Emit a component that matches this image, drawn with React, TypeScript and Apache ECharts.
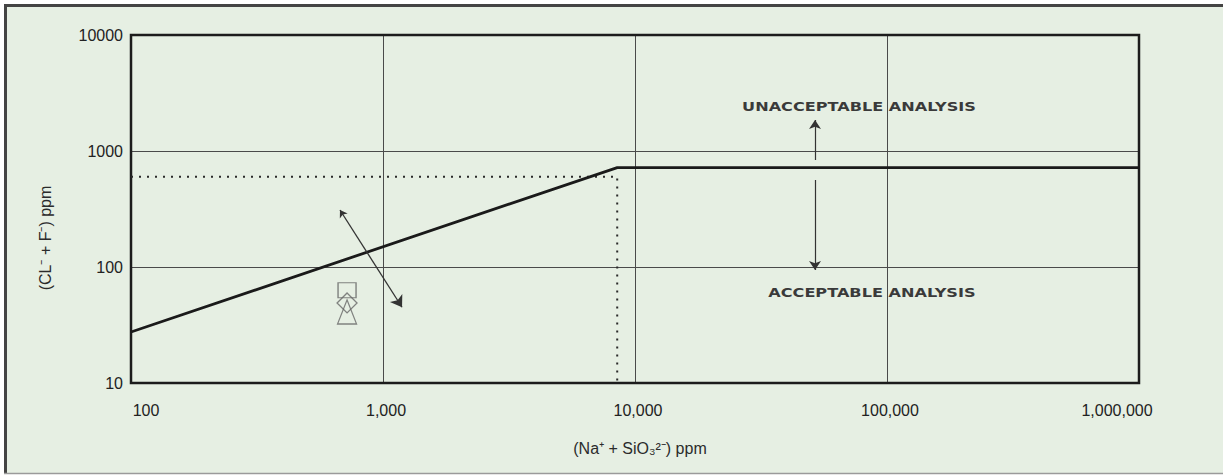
import React, { useEffect, useRef } from 'react';
import * as echarts from 'echarts';

// Axis tick labels (log decades)
const xTickLabels = ['100', '1,000', '10,000', '100,000', '1,000,000'];
const yTickLabels = ['10', '100', '1000', '10000'];
const xAxisTitle = '(Na⁺ + SiO₃²⁻) ppm';
const yAxisTitle = '(CL⁻ + F⁻) ppm';

// Acceptance limit line (x: Na+SiO3 ppm, y: Cl+F ppm)
const limitLine: [number, number][] = [
  [100, 27.5],
  [8500, 720],
  [1000000, 720],
];
// Dotted guide lines
const dottedGuide: [number, number][] = [
  [100, 600],
  [8500, 600],
  [8500, 10],
];
// Sample markers
const sampleSymbols = ['rect', 'diamond', 'triangle'];
const samplePoints: [number, number][] = [
  [720, 63],
  [720, 49],
  [720, 41],
];
const sampleSizes: [number, number][] = [
  [18, 15],
  [20, 20],
  [19, 24],
];
// Arrows
const diagonalArrow: [number, number][] = [
  [675, 310],
  [1190, 45],
];
const upArrow: [number, number][] = [
  [51800, 836],
  [51800, 1850],
];
const downArrow: [number, number][] = [
  [51800, 563],
  [51800, 94],
];
// Region labels
const regionLabels = ['UNACCEPTABLE ANALYSIS', 'ACCEPTABLE ANALYSIS'];
const regionLabelPos: [number, number][] = [
  [77400, 2443],
  [87100, 60.9],
];

const FONT = '"Liberation Sans", Arial, Helvetica, sans-serif';
const TICK_SIZE = 16;
const TICK_COLOR = '#222';

export default function App() {
  const ref = useRef<HTMLDivElement>(null);

  useEffect(() => {
    if (!ref.current) return;
    const chart = echarts.init(ref.current, null, { renderer: 'svg' });

    const option: any = {
      animation: false,
      backgroundColor: '#ffffff',
      grid: {
        left: 131,
        top: 35,
        right: 84,
        bottom: 93,
        show: true,
        borderColor: '#1c1c1c',
        borderWidth: 2.5,
        backgroundColor: 'transparent',
        z: 1,
      },
      xAxis: {
        type: 'log',
        logBase: 10,
        min: 100,
        max: 1000000,
        axisLine: { show: false },
        axisTick: { show: false },
        splitLine: { show: true, lineStyle: { color: '#4a4a4a', width: 1 } },
        axisLabel: {
          margin: 19,
          fontSize: TICK_SIZE,
          color: TICK_COLOR,
          fontFamily: FONT,
          formatter: (v: number) => {
            const i = Math.round(Math.log10(v)) - 2;
            const t = xTickLabels[i] ?? '';
            if (i === 0) return '{first|' + t + '}';
            if (i === xTickLabels.length - 1) return '{last|' + t + '}';
            return '{mid|' + t + '}';
          },
          rich: {
            first: { fontSize: TICK_SIZE, color: TICK_COLOR, fontFamily: FONT, padding: [0, 0, 0, 30] },
            last: { fontSize: TICK_SIZE, color: TICK_COLOR, fontFamily: FONT, padding: [0, 44, 0, 0] },
            mid: { fontSize: TICK_SIZE, color: TICK_COLOR, fontFamily: FONT, padding: [0, 0, 0, 6] },
          },
        },
        name: xAxisTitle,
        nameLocation: 'middle',
        nameGap: 57,
        nameTextStyle: { fontSize: 16, color: '#2b2b2b', fontFamily: FONT, padding: [0, 0, 0, 10] },
      },
      yAxis: {
        type: 'log',
        logBase: 10,
        min: 10,
        max: 10000,
        axisLine: { show: false },
        axisTick: { show: false },
        splitLine: { show: true, lineStyle: { color: '#4a4a4a', width: 1 } },
        axisLabel: {
          margin: 8,
          fontSize: TICK_SIZE,
          color: TICK_COLOR,
          fontFamily: FONT,
          formatter: (v: number) => yTickLabels[Math.round(Math.log10(v)) - 1] ?? '',
        },
        name: yAxisTitle,
        nameLocation: 'middle',
        nameGap: 78,
        nameTextStyle: { fontSize: 16, color: '#2b2b2b', fontFamily: FONT, padding: [0, 58, 0, 0] },
      },
      series: [
        {
          type: 'line',
          data: dottedGuide,
          symbol: 'none',
          lineStyle: { color: '#2a2a2a', width: 2, type: [2, 6] },
          z: 2,
        },
        {
          type: 'line',
          data: limitLine,
          symbol: 'none',
          lineStyle: { color: '#1a1a1a', width: 2.8 },
          z: 3,
        },
        {
          type: 'scatter',
          data: samplePoints.map((p, i) => ({
            value: p,
            symbol: sampleSymbols[i],
            symbolSize: sampleSizes[i],
          })),
          itemStyle: { color: 'rgba(0,0,0,0)', borderColor: '#666', borderWidth: 1.3 },
          z: 4,
        },
        {
          type: 'lines',
          coordinateSystem: 'cartesian2d',
          data: [{ coords: diagonalArrow }],
          symbol: ['arrow', 'arrow'],
          symbolSize: [7, 11],
          lineStyle: { color: '#333', width: 1.3, opacity: 1 },
          z: 4,
        },
        {
          type: 'lines',
          coordinateSystem: 'cartesian2d',
          data: [{ coords: upArrow }, { coords: downArrow }],
          symbol: ['none', 'arrow'],
          symbolSize: [6, 9],
          lineStyle: { color: '#333', width: 1.2, opacity: 1 },
          z: 4,
        },
      ],
    };

    chart.setOption(option);

    const labelEls = regionLabels.map((t, i) => {
      const [px, py] = chart.convertToPixel({ gridIndex: 0 }, regionLabelPos[i]) as number[];
      return {
        type: 'text',
        id: 'region' + i,
        x: px,
        y: py,
        scaleX: 1.24,
        z: 10,
        style: {
          text: t,
          fill: '#3a3a3a',
          font: 'bold 13px "DejaVu Sans", sans-serif',
          align: 'center',
          verticalAlign: 'middle',
        },
      };
    });

    chart.setOption({
      graphic: {
        elements: [
          {
            type: 'rect',
            id: 'bg',
            z: -10,
            shape: { x: 5, y: 5, width: 1230, height: 468 },
            style: { fill: '#e6efe3' },
          },
          {
            type: 'line',
            id: 'frameLeft',
            z: -9,
            shape: { x1: 5.5, y1: 4, x2: 5.5, y2: 473 },
            style: { stroke: '#444', lineWidth: 3 },
          },
          {
            type: 'line',
            id: 'frameTop',
            z: -9,
            shape: { x1: 4, y1: 5.5, x2: 1230, y2: 5.5 },
            style: { stroke: '#444', lineWidth: 3 },
          },
          {
            type: 'line',
            id: 'frameBottom',
            z: -9,
            shape: { x1: 4, y1: 473.5, x2: 1230, y2: 473.5 },
            style: { stroke: '#9a9a9a', lineWidth: 1.5 },
          },
          ...labelEls,
        ],
      },
    });

    return () => chart.dispose();
  }, []);

  return (
    <div
      ref={ref}
      style={{ position: 'fixed', left: 0, top: 0, width: 1223, height: 476 }}
    />
  );
}
